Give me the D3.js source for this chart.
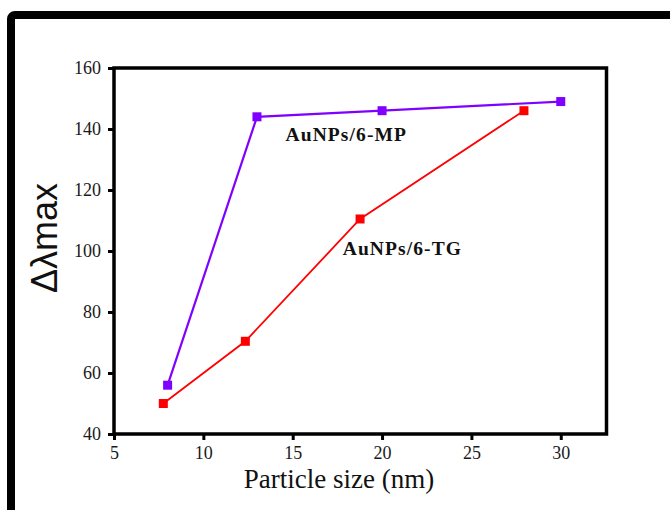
<!DOCTYPE html>
<html>
<head>
<meta charset="utf-8">
<script src="https://cdn.jsdelivr.net/npm/d3@7"></script>
<style>
  html, body { margin: 0; padding: 0; background: #fff; }
  svg { display: block; }
</style>
</head>
<body>
<svg id="chart" width="670" height="510"></svg>
<script>
// Particle size (nm) vs. shift of the absorption maximum
const mpSize = [8, 13, 20, 30];
const mpShift = [56, 144, 146, 149];
const tgSize = [7.76, 12.35, 18.77, 27.94];
const tgShift = [50, 70.4, 110.5, 146];
const xTicks = [5, 10, 15, 20, 25, 30];
const yTicks = [40, 60, 80, 100, 120, 140, 160];
const seriesNames = ["AuNPs/6-MP", "AuNPs/6-TG"];

const svg = d3.select("#chart");

// outer frame
svg.append("rect")
  .attr("x", 11).attr("y", 15)
  .attr("width", 720).attr("height", 620)
  .attr("rx", 4)
  .attr("fill", "none")
  .attr("stroke", "#000")
  .attr("stroke-width", 8);

const plotL = 114, plotR = 606.5, plotT = 68, plotB = 434;

const x = d3.scaleLinear().domain([5, 32.56]).range([plotL, plotR]);
const y = d3.scaleLinear().domain([40, 160]).range([plotB, plotT]);

// plot box
svg.append("rect")
  .attr("x", plotL).attr("y", plotT)
  .attr("width", plotR - plotL).attr("height", plotB - plotT)
  .attr("fill", "none").attr("stroke", "#000").attr("stroke-width", 3.5);

const serif = "'Liberation Serif', 'Times New Roman', serif";

const xAxis = svg.append("g")
  .attr("transform", `translate(0,${plotB})`)
  .call(d3.axisBottom(x).tickValues(xTicks).tickSize(6).tickPadding(6).tickFormat(d3.format("d")));
const yAxis = svg.append("g")
  .attr("transform", `translate(${plotL},0)`)
  .call(d3.axisLeft(y).tickValues(yTicks).tickSize(6).tickPadding(7).tickFormat(d3.format("d")));

[xAxis, yAxis].forEach(g => {
  g.select(".domain").remove();
  g.selectAll(".tick line").attr("stroke", "#000").attr("stroke-width", 3);
  g.selectAll(".tick text")
    .attr("fill", "#1a1a1a")
    .style("font-family", serif)
    .style("font-size", "18px");
});

// series
const series = [
  { name: seriesNames[0], xs: mpSize, ys: mpShift, color: "#8000ff", width: 2.2 },
  { name: seriesNames[1], xs: tgSize, ys: tgShift, color: "#ff0000", width: 1.8 }
];

const line = d3.line().x(d => x(d[0])).y(d => y(d[1]));

series.forEach(s => {
  const pts = s.xs.map((v, i) => [v, s.ys[i]]);
  svg.append("path")
    .datum(pts)
    .attr("d", line)
    .attr("fill", "none")
    .attr("stroke", s.color)
    .attr("stroke-width", s.width);
  svg.selectAll(null)
    .data(pts)
    .enter().append("rect")
    .attr("x", d => x(d[0]) - 4.5)
    .attr("y", d => y(d[1]) - 4.5)
    .attr("width", 9).attr("height", 9)
    .attr("fill", s.color);
});

// series labels
svg.append("text")
  .attr("x", x(14.6)).attr("y", y(136.2))
  .attr("font-family", serif).attr("font-weight", "bold")
  .attr("font-size", 19.5).attr("letter-spacing", 1.1)
  .attr("fill", "#111")
  .text(seriesNames[0]);
svg.append("text")
  .attr("x", x(17.8)).attr("y", y(98.8))
  .attr("font-family", serif).attr("font-weight", "bold")
  .attr("font-size", 19.5).attr("letter-spacing", 1.1)
  .attr("fill", "#111")
  .text(seriesNames[1]);

// axis titles
svg.append("text")
  .attr("x", 339).attr("y", 488)
  .attr("text-anchor", "middle")
  .attr("font-family", serif)
  .attr("font-size", 27)
  .attr("fill", "#111")
  .text("Particle size (nm)");

svg.append("text")
  .attr("transform", "translate(57,238) rotate(-90)")
  .attr("text-anchor", "middle")
  .attr("font-family", "'Liberation Sans', Arial, sans-serif")
  .attr("font-size", 36)
  .attr("fill", "#111")
  .text("Δλmax");
</script>
</body>
</html>
